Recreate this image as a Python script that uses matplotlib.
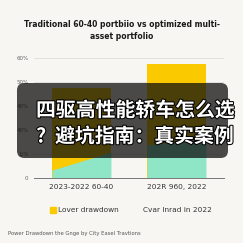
import matplotlib
matplotlib.use("Agg")
import matplotlib.pyplot as plt
from matplotlib.patches import FancyBboxPatch, Rectangle
import matplotlib.patheffects as pe

# ---- data ----
categories = ["2023-2022 60-40", "202R 960, 2022"]
bar_totals = [37.5, 47.5]
green_left = [3.3, 13.8]
green_right = [10.8, 16.7]
ytick_values = [0, 10, 20, 30, 40, 50]
ytick_labels = ["0", "1/%", "40%", "40%", "50%", "60%"]
legend_labels = ["Lover drawdown", "Cvar Inrad in 2022"]
title_text = "Traditional 60-40 portbiio vs optimized multi-\nasset portfolio"
footer_text = "Power Drawdown the Gnge by City Easel Travtions"
overlay_line1 = "四驱高性能轿车怎么选"
overlay_line2_mark = "?"
overlay_line2 = "避坑指南：真实案例"

BG = "#f7f6f2"
YELLOW = "#fac900"
MINT = "#8fe6c6"

fig = plt.figure(figsize=(2.43, 2.43), dpi=100, facecolor=BG)
ax = fig.add_axes([34/243, 1-178/243, (224-34)/243, (178-58)/243], facecolor=BG)

width = 0.62
xs = list(range(len(categories)))
ax.bar(xs, bar_totals, width=width, color=YELLOW, zorder=2)
for x, gl, gr in zip(xs, green_left, green_right):
    ax.fill_between([x - width/2, x + width/2], [0, 0], [gl, gr], color=MINT, zorder=3, linewidth=0)

ax.set_xlim(-0.5, 1.5)
ax.set_ylim(0, 50)
ax.set_yticks(ytick_values)
ax.set_yticklabels(ytick_labels, fontsize=4, color="#666666")
ax.set_xticks(xs)
ax.set_xticklabels(categories, fontsize=5.3, color="#333333")
ax.tick_params(axis="both", length=0, pad=4)
ax.grid(axis="y", color="#dddddd", linewidth=0.6, zorder=0)
for s in ["top", "right", "left"]:
    ax.spines[s].set_visible(False)
ax.spines["bottom"].set_color("#777777")
ax.spines["bottom"].set_linewidth(0.7)
ax.spines["bottom"].set_zorder(4)

fig.text(0.5, 1-30.5/243, title_text, ha="center", va="center", fontsize=5.5,
         fontweight="semibold", color="#1a1a1a", linespacing=1.4)

# legend
fig.patches.append(Rectangle((50/243, 1-213/243), 6/243, 6/243, transform=fig.transFigure,
                             color=YELLOW, zorder=5))
fig.text(58/243, 1-210/243, legend_labels[0], ha="left", va="center", fontsize=5.3, color="#333333")
fig.text(177/243, 1-210/243, legend_labels[1], ha="center", va="center", fontsize=5.3, color="#333333")
fig.text(8/243, 1-233/243, footer_text, ha="left", va="center", fontsize=3.8, color="#555555")

# overlay banner
box = FancyBboxPatch((17/243, 1-158/243), (228-17)/243, (158-83)/243,
                     boxstyle="round,pad=0,rounding_size=0.03", transform=fig.transFigure,
                     facecolor=(0.05, 0.05, 0.05, 0.74), edgecolor="none", zorder=10)
fig.patches.append(box)
outline = [pe.withStroke(linewidth=1.5, foreground="black")]
cjk = ["Noto Sans CJK SC", "DejaVu Sans"]
fig.text(36/243, 1-110/243, overlay_line1, ha="left", va="center", fontsize=14.3,
         fontweight="bold", color="white", family=cjk, path_effects=outline, zorder=11)
fig.text(36/243, 1-136/243, overlay_line2_mark, ha="left", va="center", fontsize=14.3,
         fontweight="bold", color="white", family=cjk, path_effects=outline, zorder=11)
fig.text(55/243, 1-136/243, overlay_line2, ha="left", va="center", fontsize=14.3,
         fontweight="bold", color="white", family=cjk, path_effects=outline, zorder=11)

fig.savefig("out.png", dpi=100, facecolor=BG)
